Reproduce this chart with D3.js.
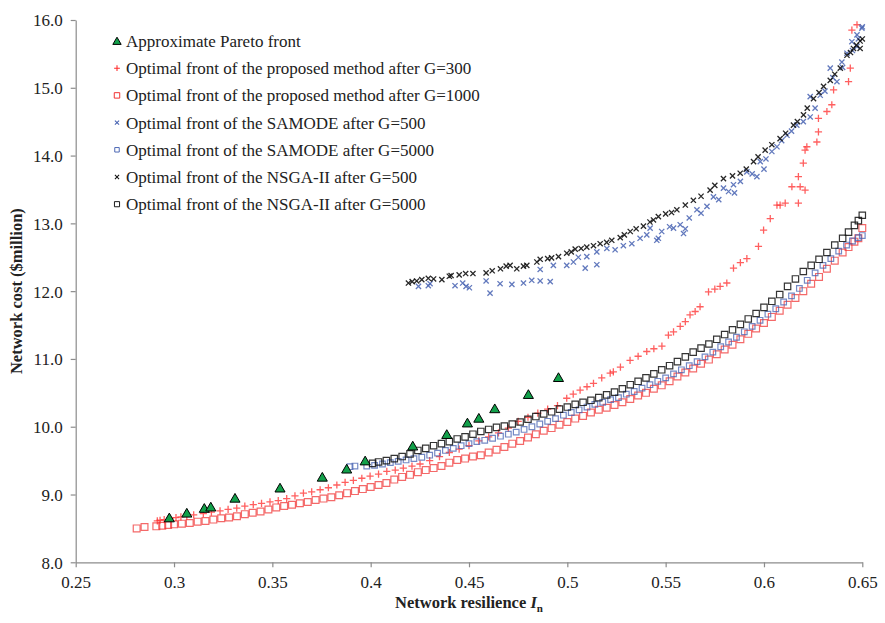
<!DOCTYPE html>
<html>
<head>
<meta charset="utf-8">
<script src="https://cdn.jsdelivr.net/npm/d3@7/dist/d3.min.js"></script>
<style>
  body { margin: 0; background: #fff; }
  text { font-family: "Liberation Serif", "Times New Roman", Tinos, "DejaVu Serif", serif; }
</style>
</head>
<body>
<div id="chart"></div>
<script>
// Series: [resilience In, cost $million]
var pareto = [[0.2976,8.64],[0.3065,8.71],[0.3154,8.78],[0.3187,8.80],[0.3310,8.93],[0.3539,9.08],
  [0.3754,9.24],[0.3878,9.36],[0.3972,9.48],[0.4214,9.70],[0.4387,9.87],[0.4492,10.04],[0.4550,10.11],
  [0.4631,10.25],[0.4802,10.46],[0.4955,10.71]];

var proposed300 = [[0.2915,8.61],[0.2929,8.62],[0.295,8.63],[0.298,8.65],[0.301,8.66],[0.3035,8.67],[0.3065,8.68],
  [0.31,8.70],[0.3149,8.72],[0.319,8.74],[0.3234,8.76],[0.3275,8.78],[0.3319,8.80],[0.336,8.83],[0.3403,8.85],
  [0.3445,8.87],[0.3488,8.89],[0.353,8.91],[0.3573,8.94],[0.3615,8.98],[0.3658,9.02],[0.37,9.04],[0.3743,9.07],
  [0.3785,9.10],[0.3828,9.14],[0.387,9.18],[0.3912,9.21],[0.3955,9.24],[0.3997,9.27],[0.404,9.30],[0.4082,9.34],
  [0.4125,9.36],[0.4166,9.39],[0.421,9.42],[0.4251,9.45],[0.43,9.50],[0.435,9.56],[0.44,9.62],[0.445,9.67],
  [0.45,9.72],[0.455,9.79],[0.46,9.85],[0.465,9.91],[0.47,9.98],[0.475,10.08],[0.48,10.14],[0.485,10.20],
  [0.49,10.26],[0.495,10.31],[0.4997,10.42],[0.503,10.48],[0.5065,10.54],[0.51,10.59],[0.5133,10.64],
  [0.5175,10.72],[0.5218,10.79],[0.5234,10.81],[0.527,10.88],[0.5319,10.98],[0.536,11.04],[0.5404,11.11],
  [0.544,11.15],[0.5481,11.19],[0.5514,11.35],[0.554,11.40],[0.5574,11.48],[0.56,11.55],[0.5624,11.65],
  [0.565,11.70],[0.5675,11.77],[0.5718,11.99],[0.575,12.03],[0.5777,12.07],[0.5811,12.12],[0.5845,12.34],
  [0.588,12.42],[0.5913,12.48],[0.5972,12.66],[0.5998,12.90],[0.6032,13.07],[0.6066,13.27],[0.6082,13.27],
  [0.6108,13.30],[0.6142,13.54],[0.6175,13.30],[0.6184,13.54],[0.6209,13.49],[0.6175,13.69],[0.62,13.89],
  [0.6209,14.08],[0.6218,14.13],[0.6269,14.20],[0.6277,14.35],[0.6277,14.55],[0.632,14.65],[0.6345,14.75],
  [0.6354,14.97],[0.643,15.09],[0.6439,15.29],[0.6447,15.85],[0.6473,15.93]];

var proposed1000 = [[0.281,8.50],[0.285,8.52],[0.291,8.53],[0.294,8.54],[0.297,8.55],[0.300,8.56],[0.304,8.57],
  [0.308,8.58],[0.312,8.60],[0.316,8.61],[0.320,8.63],[0.324,8.65],[0.328,8.66],[0.332,8.68],[0.336,8.71],
  [0.340,8.73],[0.344,8.75],[0.348,8.78],[0.352,8.81],[0.356,8.83],[0.360,8.85],[0.364,8.87],[0.368,8.89],
  [0.372,8.92],[0.376,8.94],[0.380,8.96],[0.384,8.99],[0.388,9.02],[0.392,9.05],[0.396,9.08],[0.400,9.11],
  [0.404,9.14],[0.408,9.17],[0.412,9.22],[0.416,9.26],[0.420,9.29],[0.424,9.33],[0.428,9.36],[0.432,9.39],
  [0.436,9.42],[0.440,9.47],[0.444,9.51],[0.448,9.53],[0.452,9.56],[0.456,9.58],[0.460,9.62],[0.464,9.66],
  [0.468,9.70],[0.472,9.75],[0.476,9.79],[0.480,9.84],[0.484,9.89],[0.488,9.94],[0.492,9.98],[0.496,10.03],
  [0.500,10.07],[0.504,10.12],[0.508,10.16],[0.512,10.21],[0.516,10.25],[0.520,10.28],[0.524,10.32],
  [0.528,10.36],[0.532,10.41],[0.536,10.46],[0.540,10.50],[0.544,10.56],[0.548,10.61],[0.552,10.67],
  [0.556,10.74],[0.560,10.80],[0.564,10.86],[0.568,10.93],[0.572,10.99],[0.576,11.07],[0.580,11.14],
  [0.584,11.21],[0.588,11.29],[0.592,11.37],[0.596,11.45],[0.600,11.53],[0.604,11.62],[0.608,11.71],
  [0.612,11.80],[0.616,11.90],[0.620,12.00],[0.624,12.11],[0.628,12.21],[0.632,12.33],[0.636,12.45],
  [0.640,12.57],[0.643,12.65],[0.646,12.73],[0.648,12.78],[0.650,12.93]];

var samode500 = [[0.4243,12.07],[0.4293,12.08],[0.4302,12.11],[0.4429,12.08],[0.4468,12.12],[0.4485,12.07],
  [0.4502,12.05],[0.4587,12.15],[0.4607,11.97],[0.4658,12.11],[0.4718,12.10],[0.4777,12.12],[0.4819,12.16],
  [0.4862,12.15],[0.4862,12.32],[0.4913,12.14],[0.4929,12.38],[0.4997,12.38],[0.5031,12.43],[0.5056,12.50],
  [0.5091,12.34],[0.5099,12.51],[0.515,12.58],[0.515,12.39],[0.5201,12.63],[0.5243,12.61],[0.5285,12.67],
  [0.5328,12.70],[0.5370,12.78],[0.5404,12.83],[0.5421,12.93],[0.5463,12.78],[0.5455,12.75],[0.548,12.88],
  [0.552,12.95],[0.5540,12.93],[0.5574,12.98],[0.5591,12.85],[0.56,12.92],[0.562,13.08],[0.5659,13.20],
  [0.568,13.15],[0.5710,13.25],[0.5743,13.39],[0.577,13.35],[0.5794,13.52],[0.582,13.47],[0.5845,13.57],
  [0.585,13.45],[0.588,13.62],[0.5913,13.76],[0.594,13.73],[0.5964,13.69],[0.5981,13.91],[0.6,13.80],
  [0.601,13.95],[0.6040,14.06],[0.6066,14.13],[0.609,14.22],[0.6117,14.30],[0.614,14.36],[0.6167,14.45],
  [0.62,14.50],[0.6235,14.57],[0.6235,14.87],[0.626,14.70],[0.6286,14.89],[0.631,14.95],[0.6337,15.29],
  [0.635,15.15],[0.6371,15.09],[0.6396,15.38],[0.64,15.30],[0.6422,15.51],[0.645,15.55],[0.6447,15.68],
  [0.648,15.72],[0.6473,15.78],[0.6473,15.61],[0.6498,15.88],[0.65,15.90]];

var samode5000 = [[0.3895,9.41],[0.392,9.42],[0.398,9.42],[0.402,9.43],[0.406,9.45],[0.41,9.47],[0.414,9.49],
  [0.418,9.51],[0.422,9.53],[0.426,9.55],[0.43,9.58],[0.434,9.61],[0.438,9.65],[0.442,9.68],[0.446,9.72],
  [0.45,9.75],[0.454,9.78],[0.458,9.80],[0.462,9.83],[0.466,9.86],[0.47,9.89],[0.474,9.92],[0.478,9.96],
  [0.482,10.00],[0.486,10.04],[0.49,10.08],[0.494,10.12],[0.498,10.17],[0.502,10.21],[0.506,10.25],
  [0.51,10.29],[0.514,10.33],[0.518,10.36],[0.522,10.40],[0.526,10.43],[0.53,10.48],[0.534,10.52],
  [0.538,10.57],[0.542,10.62],[0.546,10.67],[0.55,10.72],[0.554,10.78],[0.558,10.84],[0.562,10.90],
  [0.566,10.96],[0.57,11.03],[0.574,11.10],[0.578,11.18],[0.582,11.25],[0.586,11.32],[0.59,11.40],
  [0.594,11.48],[0.598,11.57],[0.602,11.66],[0.606,11.74],[0.61,11.84],[0.614,11.93],[0.618,12.04],
  [0.622,12.16],[0.626,12.27],[0.63,12.38],[0.634,12.48],[0.638,12.59],[0.642,12.68],[0.645,12.74],
  [0.648,12.79],[0.650,12.82]];

var nsga500 = [[0.4192,12.12],[0.4211,12.14],[0.4234,12.15],[0.4260,12.17],[0.4293,12.19],[0.432,12.18],
  [0.4362,12.17],[0.4400,12.22],[0.4409,12.23],[0.445,12.24],[0.4483,12.26],[0.452,12.26],[0.4587,12.27],
  [0.4618,12.30],[0.466,12.33],[0.4689,12.37],[0.4709,12.38],[0.4743,12.33],[0.4777,12.37],[0.4794,12.38],
  [0.4845,12.43],[0.4862,12.47],[0.49,12.48],[0.492,12.49],[0.4955,12.51],[0.4997,12.56],[0.502,12.58],
  [0.5040,12.62],[0.507,12.63],[0.5099,12.65],[0.5133,12.67],[0.5167,12.70],[0.52,12.72],[0.5226,12.75],
  [0.5269,12.79],[0.529,12.83],[0.5320,12.88],[0.535,12.92],[0.5387,12.96],[0.542,13.02],[0.5438,13.05],
  [0.5463,13.10],[0.55,13.14],[0.553,13.16],[0.5557,13.20],[0.56,13.27],[0.5641,13.34],[0.568,13.40],
  [0.5726,13.49],[0.575,13.56],[0.5794,13.66],[0.584,13.70],[0.5879,13.74],[0.591,13.80],[0.5947,13.91],
  [0.597,13.98],[0.6006,14.08],[0.604,14.16],[0.6082,14.25],[0.611,14.33],[0.6150,14.45],[0.617,14.50],
  [0.6201,14.60],[0.622,14.70],[0.6252,14.84],[0.628,14.93],[0.6303,15.02],[0.6337,15.11],[0.636,15.20],
  [0.6388,15.29],[0.6422,15.48],[0.644,15.52],[0.6455,15.58],[0.647,15.63],[0.6489,15.69],[0.6489,15.58],
  [0.65,15.72]];

var nsga5000 = [[0.401,9.46],[0.404,9.48],[0.408,9.50],[0.412,9.53],[0.416,9.56],[0.42,9.60],[0.424,9.65],
  [0.428,9.68],[0.432,9.72],[0.436,9.75],[0.44,9.78],[0.444,9.82],[0.448,9.85],[0.452,9.89],[0.456,9.93],
  [0.46,9.96],[0.464,9.99],[0.468,10.01],[0.472,10.04],[0.476,10.07],[0.48,10.11],[0.484,10.15],[0.488,10.19],
  [0.492,10.22],[0.496,10.26],[0.5,10.29],[0.504,10.33],[0.508,10.36],[0.512,10.39],[0.516,10.43],[0.52,10.47],
  [0.524,10.51],[0.528,10.56],[0.532,10.62],[0.536,10.67],[0.54,10.72],[0.544,10.78],[0.548,10.84],[0.552,10.90],
  [0.556,10.96],[0.56,11.03],[0.564,11.10],[0.568,11.16],[0.572,11.22],[0.576,11.29],[0.58,11.36],[0.584,11.43],
  [0.588,11.51],[0.592,11.59],[0.596,11.67],[0.6,11.76],[0.604,11.85],[0.608,11.95],[0.612,12.07],[0.616,12.18],
  [0.62,12.29],[0.624,12.38],[0.628,12.47],[0.632,12.57],[0.636,12.68],[0.64,12.78],[0.643,12.87],[0.646,12.97],
  [0.648,13.04],[0.650,13.12]];

var xTicks = [0.25, 0.3, 0.35, 0.4, 0.45, 0.5, 0.55, 0.6, 0.65];
var yTicks = [8, 9, 10, 11, 12, 13, 14, 15, 16];

var legendNames = [
  "Approximate Pareto front",
  "Optimal front of the proposed method after G=300",
  "Optimal front of the proposed method after G=1000",
  "Optimal front of the SAMODE after G=500",
  "Optimal front of the SAMODE after G=5000",
  "Optimal front of the NSGA-II after G=500",
  "Optimal front of the NSGA-II after G=5000"
];

var serif = "'Liberation Serif', 'Times New Roman', Tinos, 'DejaVu Serif', serif";

var svgWidth = 885;
var svgHeight = 623;
var margin = { top: 20, right: 22.7, bottom: 60.7, left: 75.7 };
var width = svgWidth - margin.left - margin.right;
var height = svgHeight - margin.top - margin.bottom;

var svg = d3.select("#chart")
  .append("svg")
  .attr("width", svgWidth)
  .attr("height", svgHeight);

var chartGroup = svg.append("g")
  .attr("transform", `translate(${margin.left}, ${margin.top})`);

var xScale = d3.scaleLinear().domain([0.25, 0.65]).range([0, width]);
var yScale = d3.scaleLinear().domain([8, 16]).range([height, 0]);

// axes
var bottomAxis = d3.axisBottom(xScale).tickValues(xTicks).tickSize(5).tickSizeOuter(0)
  .tickFormat(d => String(+d.toFixed(2)));
var leftAxis = d3.axisLeft(yScale).tickValues(yTicks).tickSize(5).tickSizeOuter(0)
  .tickFormat(d3.format(".1f"));

var gx = chartGroup.append("g")
  .attr("transform", `translate(0, ${height})`)
  .call(bottomAxis);
var gy = chartGroup.append("g").call(leftAxis);

[gx, gy].forEach(g => {
  g.attr("font-family", serif);
  g.selectAll("path, line").attr("stroke", "#8c8c8c").attr("stroke-width", 1.2);
  g.selectAll("text").attr("fill", "#222").style("font-size", "17px").style("font-family", serif);
});
gx.selectAll("text").attr("dy", "1.05em");
gy.selectAll("text").attr("x", -13).attr("dy", "0.35em");

// marker shapes
var triPath = d3.symbol(d3.symbolTriangle, 44)();
var plusPath = "M-3.6,0H3.6M0,-3.6V3.6";
var crossPath = "M-2.6,-2.6L2.6,2.6M-2.6,2.6L2.6,-2.6";

var series = [
  { data: proposed300, path: plusPath, fill: "none", stroke: "#ff2a2a", sw: 1.3, op: 0.75 },
  { data: proposed1000, path: "M-3.4,-3.4H3.4V3.4H-3.4Z", fill: "none", stroke: "#f02a2a", sw: 1.2, op: 0.7 },
  { data: samode500, path: crossPath, fill: "none", stroke: "#4662b2", sw: 1.3, op: 0.85 },
  { data: samode5000, path: "M-2.8,-2.8H2.8V2.8H-2.8Z", fill: "none", stroke: "#4662b2", sw: 1.2, op: 0.75 },
  { data: nsga500, path: crossPath, fill: "none", stroke: "#111", sw: 1.3, op: 0.9 },
  { data: nsga5000, path: "M-3.2,-3.2H3.2V3.2H-3.2Z", fill: "none", stroke: "#111", sw: 1.2, op: 0.85 },
  { data: pareto, path: triPath, fill: "#12a04a", stroke: "#000", sw: 1, op: 1 }
];

series.forEach(s => {
  chartGroup.append("g").selectAll("path")
    .data(s.data)
    .enter()
    .append("path")
    .attr("d", s.path)
    .attr("transform", d => `translate(${xScale(d[0])}, ${yScale(d[1])})`)
    .attr("fill", s.fill)
    .attr("stroke", s.stroke)
    .attr("stroke-width", s.sw)
    .attr("stroke-opacity", s.op);
});

// legend, same order as in the picture
var legendStyles = [series[6], series[0], series[1], series[2], series[3], series[4], series[5]];
var legend = svg.append("g").attr("transform", "translate(117, 41)");
legendNames.forEach((name, i) => {
  var s = legendStyles[i];
  var row = legend.append("g").attr("transform", `translate(0, ${i * 27.2})`);
  row.append("path")
    .attr("d", i === 0 ? d3.symbol(d3.symbolTriangle, 30)() : s.path)
    .attr("transform", i === 0 ? "translate(0,1)" : "scale(0.8)")
    .attr("fill", s.fill)
    .attr("stroke", s.stroke)
    .attr("stroke-width", s.sw);
  row.append("text")
    .attr("x", 9)
    .attr("dy", "0.35em")
    .style("font-size", "17px")
    .style("font-family", serif)
    .attr("fill", "#222")
    .text(name);
});

// axis titles
svg.append("text")
  .attr("transform", `translate(22, ${margin.top + height / 2}) rotate(-90)`)
  .attr("text-anchor", "middle")
  .style("font-size", "16.5px")
  .style("font-weight", "bold")
  .style("font-family", serif)
  .attr("fill", "#222")
  .text("Network cost ($million)");

var xTitle = svg.append("text")
  .attr("x", margin.left + width / 2)
  .attr("y", 608)
  .attr("text-anchor", "middle")
  .style("font-size", "16.5px")
  .style("font-weight", "bold")
  .style("font-family", serif)
  .attr("fill", "#222");
xTitle.append("tspan").text("Network resilience ");
xTitle.append("tspan").style("font-style", "italic").text("I");
xTitle.append("tspan").attr("dy", 4).style("font-size", "11px").text("n");
</script>
</body>
</html>
